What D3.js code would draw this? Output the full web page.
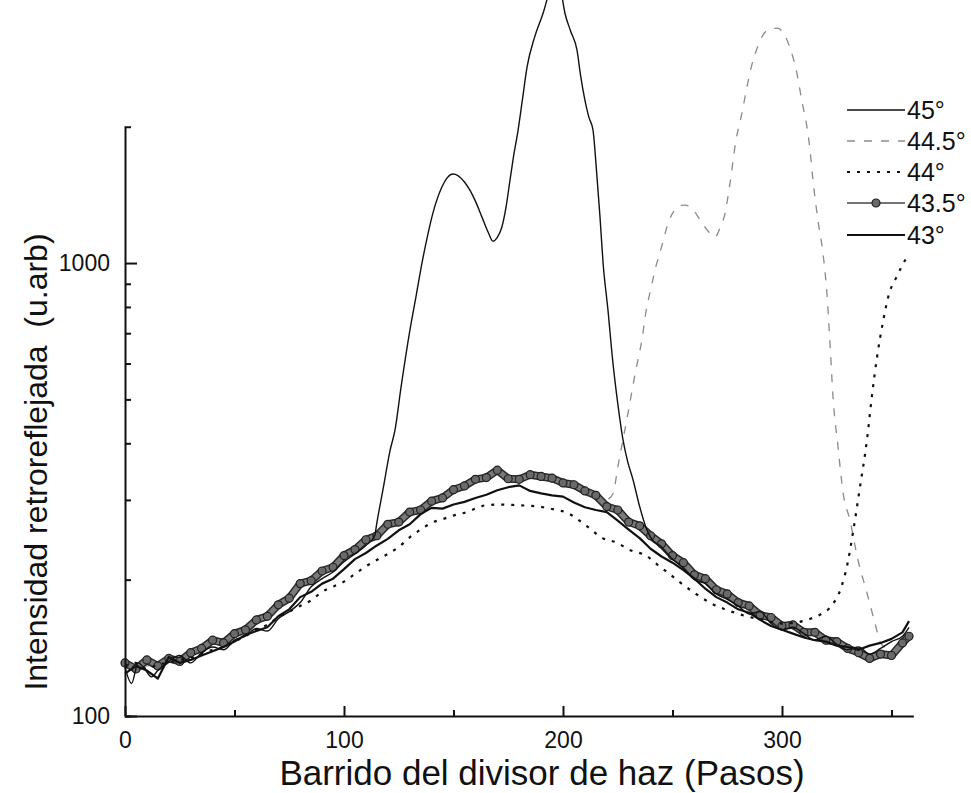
<!DOCTYPE html>
<html>
<head>
<meta charset="utf-8">
<script src="https://cdn.jsdelivr.net/npm/d3@7"></script>
<style>
  html, body { margin: 0; padding: 0; background: #fff; }
  svg { display: block; }
  text { font-family: "Liberation Sans", Arial, sans-serif; fill: #111; }
</style>
</head>
<body>
<svg id="chart" width="971" height="793"></svg>
<script>
// ---------------- DATA ----------------
const seriesNames = ["45°", "44.5°", "44°", "43.5°", "43°"];
const xTicks = [0, 100, 200, 300];
const xMinorTicks = [50, 150, 250, 350];
const yTicks = [100, 1000];
const yMinorTicks = [200, 300, 400, 500, 600, 700, 800, 900];

// common step grid used by the 43.5° and 43° scans
const steps = [0,5,10,15,20,25,30,35,40,45,50,55,60,65,70,75,80,85,90,95,100,105,110,115,120,125,130,135,140,145,150,155,160,165,170,175,180,185,190,195,200,205,210,215,220,225,230,235,240,245,250,255,260,265,270,275,280,285,290,295,300,305,310,315,320,325,330,335,340,345,350,355,358];

const v435 = [131,127,133,129,134,132,138,141,147,145,152,155,163,166,176,182,196,199,209,213,226,233,245,250,265,268,282,285,298,303,316,322,333,336,349,334,333,341,338,335,327,324,314,307,290,285,268,263,250,240,226,218,205,201,190,186,178,175,167,165,158,159,153,153,147,146,141,138,134,137,136,145,150];

const v43 = [124,129,126,121,135,131,133,136,139,142,146,151,154,157,166,172,183,188,196,201,211,222,229,238,246,257,265,279,288,287,293,297,303,308,315,320,323,314,310,307,305,296,289,285,282,270,258,247,234,225,218,210,201,191,183,178,172,169,163,158,155,152,149,147,146,143,142,140,143,145,148,153,162];

const x45 = [0,3,6,9,12,15,20,25,30,35,40,45,50,55,60,65,70,75,80,85,90,95,100,105,110,114,115,118,121,123.3,126,130.1,133,135.6,138,140.6,144.7,147,149.8,152,155,157.5,160,163,166,168,170,172.1,174,175.8,177.5,179.5,181.5,183.6,187,190.9,194,196.5,199,200.9,203.5,206.4,208,210,211.8,213.7,215.3,216.9,218.3,220.5,222.8,225,227.4,229.5,232,235,238.4,240,245,250,255,260,265,270,275,280,285,290,295,300,305,310,315,320,325,330,335,340,345,350,355,358];
const v45 = [128,118,131,127,122,126,132,136,131,138,142,140,147,150,156,154,164,170,178,193,201,208,219,228,238,250,267,320,385,428,530,711,850,1000,1140,1289,1472,1540,1572,1560,1510,1449,1370,1263,1165,1118,1140,1201,1330,1525,1730,1966,2300,2710,3150,3560,4000,4250,4000,3560,3250,2950,2600,2290,2100,1966,1600,1263,1000,790,602,490,407,365,332,290,257,248,236,222,212,200,196,186,181,175,168,170,160,155,157,152,147,150,144,140,142,137,141,146,150,157];

const x445 = [0,5,10,15,20,25,30,35,40,45,50,55,60,65,70,75,80,85,90,95,100,105,110,115,120,125,130,135,140,145,150,155,160,165,170,175,180,185,190,195,200,205,210,215,219,221,223,225,227.5,229.7,233,236,238,240,242,245,248,251,253.5,255.7,258,260.5,262.6,266,269.4,271.5,274,276,279,281.7,284,286,288,290,294,297.7,301,303.7,306.8,309,311.4,312.8,314,316.4,318.7,320.5,322,323.3,325.6,327.9,331,334.7,338.8,342.5,345,348,351,354,358];
const v445 = [130,131,129,131,133,134,137,141,145,147,151,156,162,167,174,181,192,198,206,213,223,232,243,251,263,269,280,286,296,302,314,321,330,336,344,337,334,338,336,333,326,321,313,305,300,302,311,354,410,467,572,676,787,872,965,1085,1225,1310,1340,1343,1330,1290,1244,1180,1141,1190,1289,1471,1868,2143,2447,2710,2920,3100,3280,3300,3200,2980,2625,2290,1995,1776,1548,1244,1052,859,653,506,392,311,271,221,187,160,145,141,140,143,148];

const x44 = [0,5,10,15,20,25,30,35,40,45,50,55,60,65,70,75,80,85,90,95,100,105,110,115,120,125,130,135,140,145,150,156,160,165,172,179,185,191,197,202,207,212,218,224,231,238,243,248,253,260,267,274,282,291,300,307,313,318,323,327,330,332.4,335.6,338.8,341,343.4,346,349,352,355,357];
const v44 = [129,131,127,130,131,133,134,137,140,142,146,150,155,159,165,170,175,180,188,193,198,206,214,221,228,236,248,258,267,272,277,282,287,292,293,292,291,289,285,281,271,260,247,242,232,226,216,207,198,187,178,172,167,163,160,161,164,168,176,192,218,254,320,407,506,620,737,859,925,990,1030];

// ---------------- LAYOUT ----------------
const svg = d3.select("#chart");
const x = d3.scaleLinear().domain([0, 360]).range([125, 913.4]);
const y = d3.scaleLog().domain([100, 2000]).range([716, 126.7]);

const series = [
  { name: seriesNames[0], xs: x45, vs: v45, stroke: "#111", width: 1.4, dash: null, curve: d3.curveMonotoneX },
  { name: seriesNames[1], xs: x445, vs: v445, stroke: "#8a8a8a", width: 1.3, dash: "8,9", curve: d3.curveMonotoneX },
  { name: seriesNames[2], xs: x44, vs: v44, stroke: "#111", width: 2.2, dash: "3,7", curve: d3.curveMonotoneX },
  { name: seriesNames[3], xs: steps, vs: v435, stroke: "#444", width: 1.6, dash: null, curve: d3.curveLinear, marker: true },
  { name: seriesNames[4], xs: steps, vs: v43, stroke: "#111", width: 2.2, dash: null, curve: d3.curveLinear }
];

// draw lines
const drawOrder = [1, 3, 2, 0, 4];
drawOrder.forEach(i => {
  const s = series[i];
  const pts = s.xs.map((d, j) => [d, s.vs[j]]);
  const line = d3.line().x(d => x(d[0])).y(d => y(d[1])).curve(s.curve);
  if (s.marker) {
    // band look of the densely marked scan: dark edge + grey core
    svg.append("path").attr("d", line(pts)).attr("fill", "none")
      .attr("stroke", "#2a2a2a").attr("stroke-width", 8).attr("stroke-linejoin", "round").attr("stroke-linecap", "round");
    svg.append("path").attr("d", line(pts)).attr("fill", "none")
      .attr("stroke", "#7a7a7a").attr("stroke-width", 5).attr("stroke-linejoin", "round").attr("stroke-linecap", "round");
    svg.append("g").selectAll("circle").data(pts).join("circle")
      .attr("cx", d => x(d[0])).attr("cy", d => y(d[1]))
      .attr("r", 4)
      .attr("fill", "#6a6a6a")
      .attr("stroke", "#222")
      .attr("stroke-width", 1.2);
  } else {
    svg.append("path")
      .attr("d", line(pts))
      .attr("fill", "none")
      .attr("stroke", s.stroke)
      .attr("stroke-width", s.width)
      .attr("stroke-linejoin", "round")
      .attr("stroke-dasharray", s.dash);
  }
});

// ---------------- AXES ----------------
const xAxis = d3.axisBottom(x).tickValues(xTicks).tickSizeInner(-10).tickSizeOuter(0).tickPadding(16).tickFormat(d3.format("d"));
const gx = svg.append("g").attr("transform", "translate(0,716)").call(xAxis);
const xMinor = d3.axisBottom(x).tickValues(xMinorTicks).tickSizeInner(-6).tickSizeOuter(0).tickFormat("");
const gxm = svg.append("g").attr("transform", "translate(0,716)").call(xMinor);
gxm.select(".domain").remove();

const yAxis = d3.axisLeft(y).tickValues(yTicks).tickSizeInner(-12).tickSizeOuter(-6).tickPadding(15).tickFormat(d3.format("d"));
const gy = svg.append("g").attr("transform", "translate(125,0)").call(yAxis);
const yMinor = d3.axisLeft(y).tickValues(yMinorTicks).tickSizeInner(-6).tickSizeOuter(0).tickFormat("");
const gym = svg.append("g").attr("transform", "translate(125,0)").call(yMinor);
gym.select(".domain").remove();

[gx, gxm, gy, gym].forEach(g => {
  g.attr("font-size", 23).attr("font-family", "Liberation Sans, Arial, sans-serif");
  g.selectAll("path, line").attr("stroke", "#111").attr("stroke-width", 2);
  g.selectAll("text").attr("font-size", 23).attr("fill", "#111");
});

// axis titles
svg.append("text")
  .attr("x", 542).attr("y", 785)
  .attr("text-anchor", "middle")
  .attr("font-size", 35)
  .text("Barrido del divisor de haz (Pasos)");

svg.append("text")
  .attr("transform", "translate(47,462) rotate(-90)")
  .attr("text-anchor", "middle")
  .attr("font-size", 32)
  .attr("xml:space", "preserve")
  .style("white-space", "pre")
  .text("Intensidad retroreflejada  (u.arb)");

// ---------------- LEGEND ----------------
const legY = [110, 141, 172, 203, 235];
const leg = svg.append("g");
series.forEach((s, i) => {
  const g = leg.append("g").attr("transform", `translate(0,${legY[i]})`);
  g.append("line")
    .attr("x1", 847).attr("x2", 905).attr("y1", 0).attr("y2", 0)
    .attr("stroke", s.stroke)
    .attr("stroke-width", s.marker ? 1.6 : s.width)
    .attr("stroke-dasharray", s.dash);
  if (s.marker) {
    g.append("circle").attr("cx", 876).attr("cy", 0).attr("r", 4)
      .attr("fill", "#6a6a6a").attr("stroke", "#222").attr("stroke-width", 1.2);
  }
  g.append("text").attr("x", 907).attr("y", 9).attr("font-size", 25).text(s.name);
});
</script>
</body>
</html>
